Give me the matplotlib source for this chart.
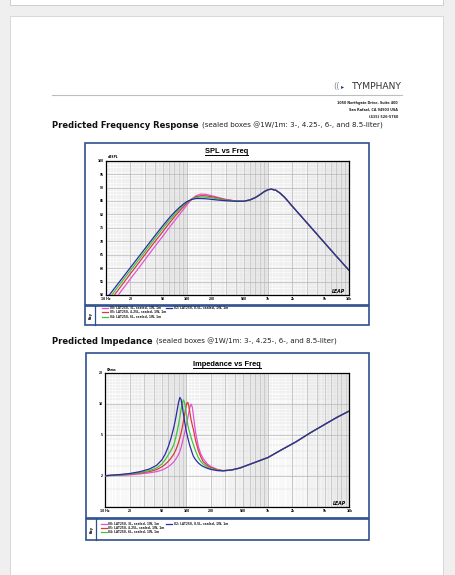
import numpy as np
import matplotlib
matplotlib.use("Agg")
import matplotlib.pyplot as plt
from matplotlib.patches import Rectangle
from matplotlib.lines import Line2D

W, H = 455, 575

# ---- SPL vs Freq (dB SPL, 1W/1m) ----
SPL_FREQ_LO = [10, 12, 15, 20, 25, 30, 40, 50, 60, 70, 80, 90, 100, 115, 130,
               150, 175, 200, 250, 300, 400, 500]
SPL_3L = [44.0, 47.1, 51.0, 56.0, 59.8, 63.0, 68.0, 71.8, 75.0, 77.6, 79.8, 81.8,
          83.6, 85.8, 87.0, 87.6, 87.4, 87.0, 86.2, 85.6, 85.0, 84.9]
SPL_425L = [45.9, 49.0, 52.9, 57.9, 61.7, 64.9, 69.8, 73.5, 76.6, 79.1, 81.1, 82.8,
            84.2, 85.7, 86.6, 87.0, 86.9, 86.6, 86.0, 85.5, 85.0, 84.9]
SPL_6L = [47.1, 50.3, 54.2, 59.1, 62.9, 66.0, 71.0, 74.7, 77.7, 80.0, 81.9, 83.4,
          84.6, 85.7, 86.3, 86.5, 86.4, 86.2, 85.7, 85.3, 84.95, 84.9]
SPL_85L = [48.4, 51.5, 55.3, 60.2, 64.0, 67.1, 72.0, 75.7, 78.6, 80.8, 82.5, 83.8,
           84.8, 85.6, 85.9, 85.9, 85.8, 85.6, 85.3, 85.1, 84.9, 84.9]
# above 500 Hz the four boxes give the same curve
SPL_FREQ_HI = [600, 700, 800, 900, 1000, 1100, 1250, 1400, 1600, 2000, 3000,
               5000, 7000, 10000]
SPL_TAIL = [85.4, 86.3, 87.4, 88.5, 89.2, 89.4, 89.0, 88.0, 86.4, 83.0, 77.0,
            69.4, 64.4, 59.2]

# ---- Impedance vs Freq (ohms) ----
IMP_FREQ_LO = [10, 15, 20, 27, 35, 43, 50, 55, 60, 65, 70, 74, 77, 80, 83, 86, 89,
               92, 95, 98, 101, 104, 107, 110, 114, 118, 122, 126, 130, 140, 150,
               160, 180, 200, 240, 280, 350, 450]
IMP_3L = [2.00, 2.02, 2.04, 2.08, 2.13, 2.19, 2.27, 2.35, 2.45, 2.57, 2.73, 2.90,
          3.05, 3.22, 3.45, 3.75, 4.20, 4.70, 5.20, 5.80, 6.50, 7.30, 8.20, 9.20,
          9.90, 9.30, 7.60, 6.20, 5.20, 3.85, 3.25, 2.95, 2.60, 2.45, 2.30, 2.24,
          2.26, 2.37]
IMP_425L = [2.00, 2.03, 2.06, 2.12, 2.19, 2.29, 2.44, 2.58, 2.76, 2.98, 3.25, 3.55,
            3.85, 4.20, 4.65, 5.20, 5.90, 6.80, 7.90, 9.10, 10.1, 10.3, 9.50, 8.30,
            7.00, 6.20, 5.60, 4.90, 4.35, 3.50, 3.05, 2.75, 2.52, 2.40, 2.28, 2.24,
            2.26, 2.37]
IMP_6L = [2.00, 2.04, 2.08, 2.15, 2.24, 2.38, 2.60, 2.86, 3.20, 3.55, 4.00, 4.70,
          5.40, 6.30, 7.40, 8.80, 10.2, 10.9, 10.2, 8.70, 7.30, 6.20, 5.60, 5.20,
          4.70, 4.30, 4.00, 3.70, 3.45, 3.00, 2.75, 2.60, 2.43, 2.34, 2.26, 2.23,
          2.26, 2.37]
IMP_85L = [2.00, 2.05, 2.10, 2.19, 2.32, 2.52, 2.85, 3.25, 3.85, 4.70, 5.90, 7.30,
           8.70, 10.3, 11.5, 11.0, 9.40, 7.90, 6.70, 5.80, 5.16, 4.65, 4.25, 3.92,
           3.60, 3.30, 3.08, 2.95, 2.85, 2.66, 2.54, 2.46, 2.36, 2.30, 2.24, 2.23,
           2.27, 2.37]
IMP_FREQ_HI = [700, 1000, 1500, 2200, 3300, 5000, 7000, 10000]
IMP_TAIL = [2.70, 3.00, 3.60, 4.25, 5.20, 6.30, 7.35, 8.50]

LEGEND = ["00: LAT250, 3L, sealed, 1W, 1m", "05: LAT250, 4.25L, sealed, 1W, 1m",
          "04: LAT250, 6L, sealed, 1W, 1m", "02: LAT250, 8.5L, sealed, 1W, 1m"]
COLORS = ["#e451d8", "#d93b3b", "#3fc43f", "#2b2ba3"]

X_TICKS = [10, 20, 50, 100, 200, 500, 1000, 2000, 5000, 10000]
X_LABELS = ["10 Hz", "20", "50", "100", "200", "500", "1k", "2k", "5k", "10k"]
SPL_TICKS = [50, 55, 60, 65, 70, 75, 80, 85, 90, 95, 100]
IMP_TICKS = [2, 5, 10, 20]

FRAME = "#2e4f8e"
TICKFONT = dict(family="Liberation Sans", weight="bold", size=2.6)


def fx(x):
    return x / W


def fy(y):
    return 1 - y / H


def box(x0, y0, x1, y1):
    return [fx(x0), fy(y1), (x1 - x0) / W, (y1 - y0) / H]


def rect(fig, x0, y0, x1, y1, fc, ec, lw, z):
    fig.add_artist(Rectangle((fx(x0), fy(y1)), (x1 - x0) / W, (y1 - y0) / H,
                             transform=fig.transFigure, fc=fc, ec=ec, lw=lw,
                             zorder=z))


def hline(fig, x0, x1, y, color, lw, z=3):
    fig.add_artist(Line2D([fx(x0), fx(x1)], [fy(y), fy(y)],
                          transform=fig.transFigure, color=color, lw=lw, zorder=z))


def leap_grid(ax, ymajor, yminor):
    for d in (10, 100, 1000):
        for k in np.arange(1.0, 10.0, 0.1):
            major = abs(k - round(k)) < 1e-6
            ax.axvline(k * d, color="#a4a4a4" if major else "#d9d9d9",
                       lw=0.45 if major else 0.25, zorder=0)
    for y in yminor:
        ax.axhline(y, color="#d6d6d6", lw=0.3, zorder=0)
    for y in ymajor:
        ax.axhline(y, color="#acacac", lw=0.4, zorder=0)


def chart(fig, frame, key_y, key_x, area, title, title_y, unit, unit_xy):
    x0, y0, x1, y1 = frame
    rect(fig, x0, y0, x1, key_y - 1, "white", FRAME, 1.2, -5)
    rect(fig, x0, key_y + 0.5, x1, y1, "white", FRAME, 1.2, -5)
    fig.add_artist(Line2D([fx(key_x), fx(key_x)], [fy(key_y + 0.5), fy(y1)],
                          transform=fig.transFigure, color=FRAME, lw=0.9))
    fig.text(fx((x0 + key_x) / 2 + 0.5), fy((key_y + y1) / 2), "Key", rotation=90,
             ha="center", va="center", fontsize=2.4, fontweight="bold")
    t = fig.text(fx((x0 + x1) / 2), fy(title_y), title, ha="center", va="center",
                 family="Liberation Sans", fontweight="bold", fontsize=5.4)
    fig.text(fx(unit_xy[0]), fy(unit_xy[1]), unit, fontsize=2.2,
             fontweight="bold", va="center")
    ax = fig.add_axes(box(*area))
    ax.set_xscale("log")
    ax.set_xlim(10, 10000)
    for s in ax.spines.values():
        s.set_color("black")
        s.set_linewidth(0.9)
    ax.tick_params(length=0, pad=1.6)
    ax.set_xticks(X_TICKS)
    ax.set_xticklabels(X_LABELS, **TICKFONT)
    ax.xaxis.set_minor_locator(matplotlib.ticker.NullLocator())
    ax.yaxis.set_minor_locator(matplotlib.ticker.NullLocator())
    ax.text(0.985, 0.008, "LEAP", transform=ax.transAxes, ha="right", va="bottom",
            fontsize=3.3, fontweight="bold", style="italic", zorder=5)
    return ax, t


def legend(fig, x_col, y_rows, x_col2, y_row2):
    slots = [(x_col, y_rows[0]), (x_col, y_rows[1]), (x_col, y_rows[2]),
             (x_col2, y_row2)]
    for (x, y), c, lab in zip(slots, COLORS, LEGEND):
        fig.add_artist(Line2D([fx(x), fx(x + 6)], [fy(y), fy(y)],
                              transform=fig.transFigure, color=c, lw=0.9))
        fig.text(fx(x + 8), fy(y), lab, fontsize=2.1, fontweight="bold",
                 va="center", color="#222222")


def underline(fig, t):
    fig.canvas.draw()
    bb = t.get_window_extent().transformed(fig.transFigure.inverted())
    fig.add_artist(Line2D([bb.x0, bb.x1], [bb.y0 - 0.5 / H, bb.y0 - 0.5 / H],
                          transform=fig.transFigure, color="black", lw=0.7))


def heading(fig, y, bold, rest):
    t = fig.text(fx(52), fy(y), bold, fontsize=6.0, fontweight="bold",
                 va="center", color="#111111")
    fig.canvas.draw()
    bb = t.get_window_extent().transformed(fig.transFigure.inverted())
    fig.text(bb.x1 + 3 / W, fy(y + 0.3), rest, fontsize=5.1, va="center",
             color="#222222")


def main():
    fig = plt.figure(figsize=(W / 100, H / 100), dpi=100)
    fig.patch.set_facecolor("#efefef")

    # page sheets
    rect(fig, 10, -5, 443, 5, "white", "#c9c9c9", 0.6, -10)
    rect(fig, 10, 15.5, 443, 585, "white", "#d2d2d2", 0.6, -10)

    # letterhead
    fig.text(fx(333), fy(86.5), "((", fontsize=6, color="#8a8a8a", va="center",
             ha="left")
    fig.text(fx(340.5), fy(86.5), "\u25b8", fontsize=4.5, color="#1f3f8f",
             va="center", ha="left")
    fig.text(fx(402), fy(86.5), "TYMPHANY", fontsize=6.6, color="#333333",
             va="center", ha="right")
    hline(fig, 52, 402, 95, "#bdbdbd", 0.8)
    for y, s in [(103.3, "1050 Northgate Drive, Suite 400"),
                 (110.3, "San Rafael, CA 94903 USA"), (117.3, "(415) 526-5760")]:
        fig.text(fx(398), fy(y), s, fontsize=2.4, fontweight="bold", ha="right",
                 va="center", color="#222222")

    heading(fig, 125.3, "Predicted Frequency Response",
            "(sealed boxes @1W/1m: 3-, 4.25-, 6-, and 8.5-liter)")
    heading(fig, 341.5, "Predicted Impedance",
            "(sealed boxes @1W/1m: 3-, 4.25-, 6-, and 8.5-liter)")

    # SPL chart
    ax, t1 = chart(fig, (85, 143, 368.5, 325), 305.5, 95,
                   (106, 160.7, 349, 295), "SPL vs Freq", 151.5, "dBSPL",
                   (108, 157.5))
    ax.set_ylim(50, 100)
    ax.set_yticks(SPL_TICKS)
    ax.set_yticklabels([str(v) for v in SPL_TICKS], **TICKFONT)
    leap_grid(ax, SPL_TICKS, range(50, 101))
    spl = [SPL_3L, SPL_425L, SPL_6L, SPL_85L]
    for vals, c in zip(spl, COLORS):
        ax.plot(SPL_FREQ_LO + SPL_FREQ_HI, vals + SPL_TAIL, color=c, lw=0.9,
                zorder=3)
    legend(fig, 101.5, (308, 312.3, 316.5), 166, 308.3)

    # impedance chart
    ax2, t2 = chart(fig, (86, 353, 368.7, 540), 518.5, 96,
                    (105, 372.7, 349.3, 506.7), "Impedance vs Freq", 364,
                    "Ohms", (107, 370))
    ax2.set_yscale("log")
    ax2.set_ylim(1, 20)
    ax2.set_yticks(IMP_TICKS)
    ax2.set_yticklabels([str(v) for v in IMP_TICKS], **TICKFONT)
    ax2.yaxis.set_minor_locator(matplotlib.ticker.NullLocator())
    ax2.yaxis.set_minor_formatter(matplotlib.ticker.NullFormatter())
    minor = list(np.arange(1.0, 10.0, 0.5)) + list(range(10, 21))
    leap_grid(ax2, IMP_TICKS, minor)
    imp = [IMP_3L, IMP_425L, IMP_6L, IMP_85L]
    for vals, c in zip(imp, COLORS):
        ax2.plot(IMP_FREQ_LO + IMP_FREQ_HI, vals + IMP_TAIL, color=c, lw=0.9,
                 zorder=3)
    legend(fig, 100.5, (524, 528, 532.3), 166, 524.3)

    underline(fig, t1)
    underline(fig, t2)
    fig.savefig("out.png", dpi=100, facecolor=fig.get_facecolor())


if __name__ == "__main__":
    main()
